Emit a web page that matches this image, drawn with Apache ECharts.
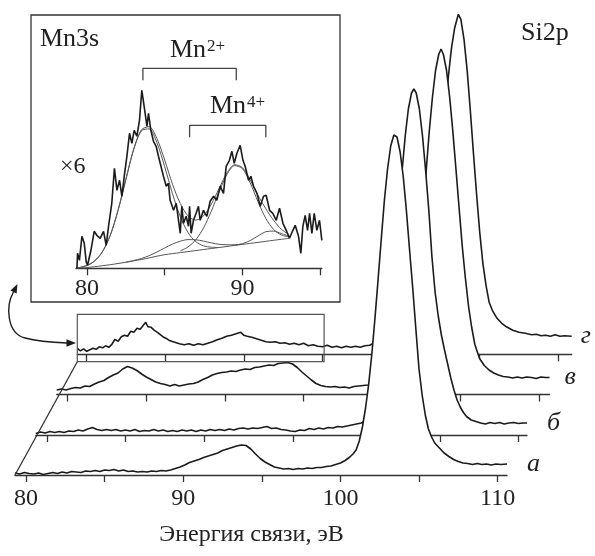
<!DOCTYPE html>
<html>
<head>
<meta charset="utf-8">
<script src="https://cdn.jsdelivr.net/npm/echarts@6/dist/echarts.min.js"></script>
<style>
html, body { margin: 0; padding: 0; background: #fff; }
#chart { width: 595px; height: 556px; }
</style>
</head>
<body>
<div id="chart"></div>
<script>
'use strict';

// Si2p spectra, [binding energy eV, intensity a.u.], front (а) to back (г)
var spectrumA = [[79.3,2],[79.6,1],[79.9,2.5],[80.2,1.5],[80.5,1],[80.8,2],[81.1,0.5],[81.4,1.5],[81.7,2.5],[82.0,1.5],[82.3,3],[82.6,2],[82.9,3.5],[83.2,3],[83.5,2.5],[83.8,4],[84.1,3.5],[84.4,4.5],[84.7,3.5],[85.0,5],[85.3,4.5],[85.6,5.5],[85.9,4],[86.2,5],[86.5,3.5],[86.8,4],[87.1,3],[87.4,3.5],[87.7,3],[88.0,4],[88.3,3.5],[88.6,4.5],[88.9,4],[89.2,5],[89.5,6.5],[89.8,8],[90.1,10],[90.4,12.5],[90.7,14],[91.0,15.5],[91.3,17.5],[91.6,19],[91.9,20.5],[92.2,22],[92.5,24.5],[92.8,26],[93.1,27.5],[93.4,29],[93.7,30],[94.0,29.5],[94.3,26],[94.6,21],[94.9,16.5],[95.2,13],[95.5,10.5],[95.8,8],[96.1,7],[96.4,6],[96.7,6.5],[97.0,5.5],[97.3,6.5],[97.6,6],[97.9,7],[98.2,6.5],[98.5,7.5],[98.8,7.5],[99.1,8.5],[99.4,9],[99.7,10.5],[100.0,12],[100.3,14.5],[100.6,18],[100.8,21],[101.0,25],[101.2,34],[101.4,48],[101.6,67],[101.8,91],[102.0,121],[102.2,157],[102.4,196],[102.6,236],[102.8,275],[103.0,306],[103.2,329],[103.4,340],[103.47,341],[103.6,338],[103.8,323],[104.0,298],[104.2,264],[104.4,225],[104.6,187],[104.8,146],[105.0,106],[105.2,80],[105.4,60],[105.6,46],[105.8,38],[106.0,32],[106.3,27],[106.6,22],[106.9,18.5],[107.2,15.5],[107.5,13.5],[107.8,12],[108.1,11.5],[108.4,10.5],[108.7,11.5],[109.0,10.5],[109.3,11],[109.6,10],[109.9,11],[110.2,10.5],[110.6,11]];
var spectrumB = [[79.3,1.5],[79.6,3],[79.9,2],[80.2,3.5],[80.5,2.5],[80.8,3.5],[81.1,2.5],[81.4,4],[81.7,3.5],[82.0,5],[82.3,4],[82.6,6],[82.9,7.5],[83.2,5.5],[83.5,4.5],[83.8,5.5],[84.1,4.5],[84.4,5.5],[84.7,4],[85.0,5],[85.3,4],[85.6,5.5],[85.9,3.5],[86.2,4.5],[86.5,4],[86.8,5.5],[87.1,4],[87.4,5],[87.7,3.5],[88.0,4.5],[88.3,3.5],[88.6,5],[88.9,4],[89.2,5],[89.5,3.5],[89.8,5],[90.1,4],[90.4,5.5],[90.7,4.5],[91.0,5.5],[91.3,4.5],[91.6,6],[91.9,5],[92.2,6.5],[92.5,7],[92.8,6],[93.1,7],[93.4,6.5],[93.7,7.5],[94.0,8.5],[94.3,6.5],[94.6,7],[94.9,5.5],[95.2,5],[95.5,4],[95.8,3.5],[96.1,5],[96.4,4.5],[96.7,6.5],[97.0,5.5],[97.3,7],[97.6,6],[97.9,7.5],[98.2,7],[98.5,8.5],[98.8,8],[99.1,9],[99.4,10],[99.7,11],[100.0,12],[100.3,14],[100.6,18],[100.8,24],[101.0,32],[101.2,44],[101.4,61],[101.6,83],[101.8,111],[102.0,145],[102.2,183],[102.4,225],[102.6,264],[102.8,299],[103.0,326],[103.2,342],[103.35,346],[103.5,342],[103.7,326],[103.9,299],[104.1,264],[104.3,225],[104.5,178],[104.7,143],[104.9,119],[105.1,100],[105.3,85],[105.5,71],[105.7,57],[105.9,45],[106.1,35],[106.3,28],[106.5,22.5],[106.7,18.5],[107.0,15],[107.3,13.5],[107.6,12],[107.9,11],[108.2,12.5],[108.5,11.5],[108.8,12.5],[109.1,11],[109.4,12],[109.7,12.5],[110.0,11.5],[110.3,12],[110.55,12]];
var spectrumV = [[79.3,4.5],[79.6,5.5],[79.9,4.5],[80.2,6],[80.5,7],[80.8,6.5],[81.1,8.5],[81.4,8],[81.7,10.5],[82.0,12.5],[82.3,14],[82.6,17],[82.9,19.5],[83.2,21.5],[83.5,25.5],[83.8,28],[84.1,26.5],[84.4,24],[84.7,20.5],[85.0,17.5],[85.3,15],[85.6,12.5],[85.9,11],[86.2,10],[86.5,8.5],[86.8,10],[87.1,8.5],[87.4,9.5],[87.7,10.5],[88.0,11],[88.3,12.5],[88.6,15],[88.9,17],[89.2,19.5],[89.5,21],[89.8,22],[90.1,22.5],[90.4,23.5],[90.7,23],[91.0,24.5],[91.3,25.5],[91.6,25],[91.9,27],[92.2,27.5],[92.5,28.5],[92.8,29.5],[93.1,29],[93.4,31],[93.7,31.5],[94.0,32],[94.3,30.5],[94.6,27],[94.9,22.5],[95.2,18.5],[95.5,14.5],[95.8,11],[96.1,9],[96.4,8],[96.7,7.5],[97.0,8],[97.3,7],[97.6,7.5],[97.9,6.5],[98.2,8],[98.5,8.5],[98.8,9],[99.1,9.5],[99.4,10.5],[99.7,12],[100.0,13.5],[100.3,15],[100.6,17],[100.9,20],[101.2,27],[101.4,35],[101.6,46],[101.8,63],[102.0,85],[102.2,112],[102.4,146],[102.6,184],[102.8,223],[103.0,263],[103.2,297],[103.4,324],[103.6,340],[103.75,345.5],[103.9,340],[104.1,324],[104.3,297],[104.5,263],[104.7,225],[104.9,186],[105.1,148],[105.3,116],[105.5,88],[105.7,67],[105.9,50],[106.2,36],[106.5,29],[106.8,24.5],[107.1,21.5],[107.4,19.5],[107.7,18],[108.0,17.5],[108.3,16.5],[108.6,17.5],[108.9,16.5],[109.2,17.5],[109.5,17],[109.8,16],[110.1,17.5],[110.4,17],[110.65,17]];
var spectrumG = [[79.4,6],[79.6,3.5],[79.8,5.5],[80.0,3],[80.2,4.5],[80.4,6],[80.6,5],[80.8,7.5],[81.0,6.5],[81.2,8.5],[81.4,7],[81.6,10],[81.8,15],[82.0,13],[82.2,17.5],[82.4,19],[82.6,18],[82.8,23],[83.0,22],[83.2,26],[83.4,25],[83.6,29],[83.75,32],[83.9,27.5],[84.1,27],[84.3,24],[84.5,22],[84.7,19.5],[84.9,17],[85.1,15.5],[85.3,13.5],[85.6,12],[85.9,10.5],[86.2,9.5],[86.5,10.5],[86.8,9],[87.1,10.5],[87.4,9.5],[87.7,11],[88.0,12.5],[88.3,14.5],[88.6,16],[88.9,18],[89.2,19],[89.5,20.5],[89.8,22],[90.0,19],[90.2,18],[90.5,17],[90.8,15.5],[91.1,14],[91.4,12.5],[91.7,12],[92.0,12.5],[92.3,11],[92.6,11.5],[92.9,10],[93.2,11],[93.5,9.5],[93.8,11],[94.1,8.5],[94.4,9.5],[94.7,8],[95.0,7.5],[95.3,9],[95.6,7],[95.9,8],[96.2,6.5],[96.5,8],[96.8,7],[97.1,8],[97.4,7],[97.7,8.5],[98.0,9],[98.3,11.5],[98.6,13],[98.9,14.5],[99.2,16],[99.5,17],[99.8,18.5],[100.1,20],[100.4,22],[100.7,24],[101.0,27],[101.3,38],[101.6,57],[101.9,88],[102.2,131],[102.5,183],[102.8,241],[103.0,277],[103.2,306],[103.4,326],[103.64,340],[103.8,335],[104.0,315],[104.2,284],[104.4,244],[104.6,201],[104.8,160],[105.0,122],[105.2,91],[105.4,69],[105.6,52],[105.8,44],[106.1,36],[106.4,31],[106.7,27.5],[107.1,24],[107.5,22],[107.9,21],[108.3,19.5],[108.6,20],[108.9,18.5],[109.2,19],[109.5,18],[109.8,19.5],[110.1,18],[110.4,18.5],[110.85,18]];
var seriesNames = ['а', 'б', 'в', 'г'];

// Mn3s inset (×6): measured curve, background and fit components
var mn3sData = [[79.36,0],[79.4,15],[79.52,8],[79.68,32],[79.83,25],[79.96,6],[80.04,3],[80.26,18],[80.47,37],[80.64,33],[80.85,30],[81.07,37],[81.24,23],[81.39,42],[81.6,65],[81.77,100],[81.93,78],[82.1,88],[82.25,72],[82.4,92],[82.57,112],[82.74,135],[82.89,125],[83.04,138],[83.21,132],[83.38,148],[83.53,178],[83.68,162],[83.86,142],[83.96,155],[84.11,138],[84.28,127],[84.45,122],[84.6,112],[84.76,102],[84.92,92],[85.1,82],[85.24,85],[85.35,68],[85.57,58],[85.74,65],[85.89,48],[86.0,35],[86.1,62],[86.21,45],[86.38,52],[86.53,42],[86.6,62],[86.7,35],[86.85,48],[87.02,55],[87.17,62],[87.28,48],[87.49,58],[87.71,52],[87.92,67],[88.14,72],[88.35,68],[88.57,82],[88.78,75],[88.95,102],[89.16,108],[89.32,117],[89.47,105],[89.64,115],[89.85,123],[90.03,108],[90.17,102],[90.39,88],[90.54,92],[90.71,82],[90.93,75],[91.14,62],[91.35,72],[91.52,73],[91.74,58],[91.95,55],[92.17,48],[92.38,60],[92.6,45],[92.81,38],[93.02,30],[93.24,38],[93.39,43],[93.6,32],[93.75,15],[93.88,42],[94.03,53],[94.18,38],[94.31,55],[94.46,35],[94.61,55],[94.78,38],[94.95,48],[95.1,28]];
var mn3sBackground = [[79.3,0],[80,0.8],[80.5,1.6],[81,2.6],[81.5,3.6],[82,4.8],[82.5,6],[83,7.4],[83.5,8.8],[84,10.4],[84.5,12.1],[85,13.6],[85.5,14.7],[86,15.7],[86.5,16.7],[87,17.7],[87.5,18.8],[88,19.8],[88.5,20.8],[89,21.8],[89.5,22.9],[90,23.9],[90.5,24.9],[91,25.9],[91.5,27],[92,28],[92.5,29],[93,30]];
var mn3sFitMn2a = [[79.3,0],[80,2.8],[80.5,7.4],[81,16.6],[81.5,32.9],[82,57.8],[82.5,88.5],[83,118.4],[83.5,137.4],[84,139.4],[84.5,125.6],[85,101.6],[85.5,74.7],[86,51.7],[86.5,35.7],[87,26.6],[87.5,22.4],[88,21.1],[88.5,20.8]];
var mn3sFitMn4a = [[82.5,6.1],[83,7.8],[83.5,9.8],[84,12.6],[84.5,16.3],[85,20.3],[85.5,24.2],[86,27.1],[86.5,28.7],[87,28.5],[87.5,27.2],[88,25.4],[88.5,24],[89,23.5],[89.5,23.6],[90,24.1]];
var mn3sFitMn2b = [[86,17.4],[86.5,21.4],[87,28.5],[87.5,40.5],[88,57.3],[88.5,76.7],[89,93.7],[89.5,102.7],[90,99.6],[90.5,85.3],[91,66.4],[91.5,49.9],[92,38.8],[92.5,33.3],[93,31.4]];
var mn3sFitMn4b = [[89.5,23.1],[90,24.7],[90.5,27.7],[91,32.4],[91.5,36.6],[92,37.2],[92.5,34.7],[93,32.2]];
var mn3sEnvelope = [[79.3,0],[80,2.8],[80.5,7.4],[81,16.6],[81.5,32.9],[82,57.8],[82.5,88.5],[83,118.8],[83.5,138.4],[84,141.6],[84.5,129.8],[85,108.3],[85.5,84.2],[86,64.8],[86.5,52.4],[87,48.2],[87.5,52.5],[88,64.2],[88.5,79.9],[89,95.4],[89.5,103.6],[90,100.6],[90.5,88.1],[91,72.9],[91.5,59.5],[92,48],[92.5,39],[93,33.6]];
var mn2Peaks = [83.6, 89.6];
var mn4Peaks = [86.6, 91.5];

// axes
var mainTicks = [80, 85, 90, 95, 100, 105, 110];
var ticksB = [80, 85, 90, 95.7, 100, 105, 110];
var mainLabels = [80, 90, 100, 110];
var insetTicks = [80, 85, 90, 95];
var insetLabels = [80, 90];
var insetRange = [79.3, 95.1];

var serif = '"Liberation Serif", "Times New Roman", serif';
var ink = '#1b1b1b';
var axisInk = '#333';

// waterfall layout, front (а) to back (г)
var stack = [
    { left: 15,   axisY: 475,   min: 79.3, max: 110.6,  ticks: mainTicks, gap: 20 },
    { left: 35.8, axisY: 435,   min: 79.3, max: 110.55, ticks: ticksB,    gap: 20 },
    { left: 56.7, axisY: 394.5, min: 79.3, max: 110.65, ticks: mainTicks, gap: 15 },
    { left: 77.3, axisY: 354.3, min: 79.4, max: 110.85, ticks: mainTicks, gap: 9 }
];
var spectra = [spectrumA, spectrumB, spectrumV, spectrumG];
var pxPerEV = 15.72;
var plotH = 350;

var grids = [], xAxes = [], yAxes = [], series = [];

stack.forEach(function (s, i) {
    grids.push({ left: s.left, top: s.axisY - plotH, width: (s.max - s.min) * pxPerEV, height: plotH });
    xAxes.push({
        type: 'value', gridIndex: i, min: s.min, max: s.max, z: 8 - 2 * i,
        axisLine: { show: true, lineStyle: { color: axisInk, width: 1.3 } },
        axisTick: { show: true, length: 7, customValues: s.ticks, lineStyle: { color: axisInk, width: 1.3 } },
        axisLabel: {
            show: i === 0, customValues: mainLabels, margin: 12,
            fontFamily: serif, fontSize: 24, color: '#222'
        },
        splitLine: { show: false }
    });
    yAxes.push({ type: 'value', gridIndex: i, min: 0, max: plotH, show: false });
    series.push({
        type: 'line', name: seriesNames[i], xAxisIndex: i, yAxisIndex: i,
        data: spectra[i], symbol: 'none', z: 7 - 2 * i, silent: true,
        lineStyle: { color: ink, width: 1.6 },
        areaStyle: { color: '#fff', opacity: 1 },
        endLabel: {
            show: true, formatter: seriesNames[i], distance: s.gap,
            fontFamily: serif, fontStyle: 'italic', fontSize: 26, color: '#222'
        }
    });
});

// inset grid
var insetTop = 28.3, insetH = 240;
grids.push({ left: 76, top: insetTop, width: (insetRange[1] - insetRange[0]) * 15.56, height: insetH });
xAxes.push({
    type: 'value', gridIndex: 4, min: insetRange[0], max: insetRange[1],
    axisLine: { show: true, lineStyle: { color: axisInk, width: 1.3 } },
    axisTick: { show: true, length: 7, customValues: insetTicks, lineStyle: { color: axisInk, width: 1.3 } },
    axisLabel: { customValues: insetLabels, margin: 8, fontFamily: serif, fontSize: 24, color: '#222' },
    splitLine: { show: false }
});
yAxes.push({ type: 'value', gridIndex: 4, min: 0, max: insetH, show: false });

var thin = function (data) {
    return {
        type: 'line', xAxisIndex: 4, yAxisIndex: 4, data: data, symbol: 'none',
        smooth: 0.3, silent: true, z: 10, lineStyle: { color: '#555', width: 1 }
    };
};
[mn3sBackground, mn3sFitMn2a, mn3sFitMn4a, mn3sFitMn2b, mn3sFitMn4b, mn3sEnvelope].forEach(function (d) {
    series.push(thin(d));
});
series.push({
    type: 'line', xAxisIndex: 4, yAxisIndex: 4, data: mn3sData, symbol: 'none',
    silent: true, z: 11, lineStyle: { color: ink, width: 1.6 }
});

// doublet brackets
var bracket = function (peaks, level) {
    return {
        type: 'line', xAxisIndex: 4, yAxisIndex: 4, symbol: 'none', silent: true, z: 11,
        data: [[peaks[0], level - 12], [peaks[0], level], [peaks[1], level], [peaks[1], level - 12]],
        lineStyle: { color: '#444', width: 1.3 }
    };
};
series.push(bracket(mn2Peaks, 200));
series.push(bracket(mn4Peaks, 143));

var myChart = echarts.init(document.getElementById('chart'));
myChart.setOption({
    animation: false,
    backgroundColor: '#fff',
    grid: grids,
    xAxis: xAxes,
    yAxis: yAxes,
    series: series
});

// frames, connector and labels, placed from the axes
var gBack = myChart.convertToPixel({ gridIndex: 3 }, [stack[3].min, 40]);
var gFront = myChart.convertToPixel({ gridIndex: 3 }, [insetRange[1], -7.4]);
var aStart = myChart.convertToPixel({ gridIndex: 0 }, [stack[0].min, 0]);

var txt = function (text, x, y, size, extra) {
    var style = { text: text, x: x, y: y, font: size + 'px ' + serif, fill: '#222', verticalAlign: 'middle' };
    if (extra) { for (var k in extra) { style[k] = extra[k]; } }
    return { type: 'text', z: 100, style: style };
};

myChart.setOption({
    graphic: [
        { type: 'rect', z: 100, shape: { x: 31, y: 15, width: 309, height: 287 },
          style: { fill: 'none', stroke: axisInk, lineWidth: 1.3 } },
        { type: 'rect', z: 100,
          shape: { x: gBack[0], y: gBack[1], width: gFront[0] - gBack[0], height: gFront[1] - gBack[1] },
          style: { fill: 'none', stroke: '#555', lineWidth: 1.2 } },
        { type: 'line', z: 100,
          shape: { x1: aStart[0], y1: aStart[1], x2: gBack[0], y2: gFront[1] },
          style: { stroke: axisInk, lineWidth: 1.3 } },
        { type: 'bezierCurve', z: 100,
          shape: { x1: 13.5, y1: 292, cpx1: 6, cpy1: 305, cpx2: 6, cpy2: 333, x2: 25, y2: 338 },
          style: { fill: 'none', stroke: ink, lineWidth: 1.4 } },
        { type: 'bezierCurve', z: 100,
          shape: { x1: 25, y1: 338, cpx1: 40, cpy1: 342, cpx2: 55, cpy2: 342.5, x2: 68, y2: 343 },
          style: { fill: 'none', stroke: ink, lineWidth: 1.4 } },
        { type: 'polygon', z: 100, shape: { points: [[17.5, 284], [16.6, 293.6], [10.4, 290.4]] },
          style: { fill: ink } },
        { type: 'polygon', z: 100, shape: { points: [[76, 343], [66.5, 339.3], [66.5, 346.7]] },
          style: { fill: ink } },
        txt('Si2p', 521, 33, 26),
        txt('Энергия связи, эВ', 251.5, 535, 24, { align: 'center' }),
        txt('Mn3s', 40, 39.5, 26),
        txt('×6', 60, 167, 24),
        txt('Mn', 170, 50.5, 26),
        txt('2+', 207, 46.5, 17),
        txt('Mn', 210, 106.5, 26),
        txt('4+', 247, 102.5, 17)
    ]
});
</script>
</body>
</html>
